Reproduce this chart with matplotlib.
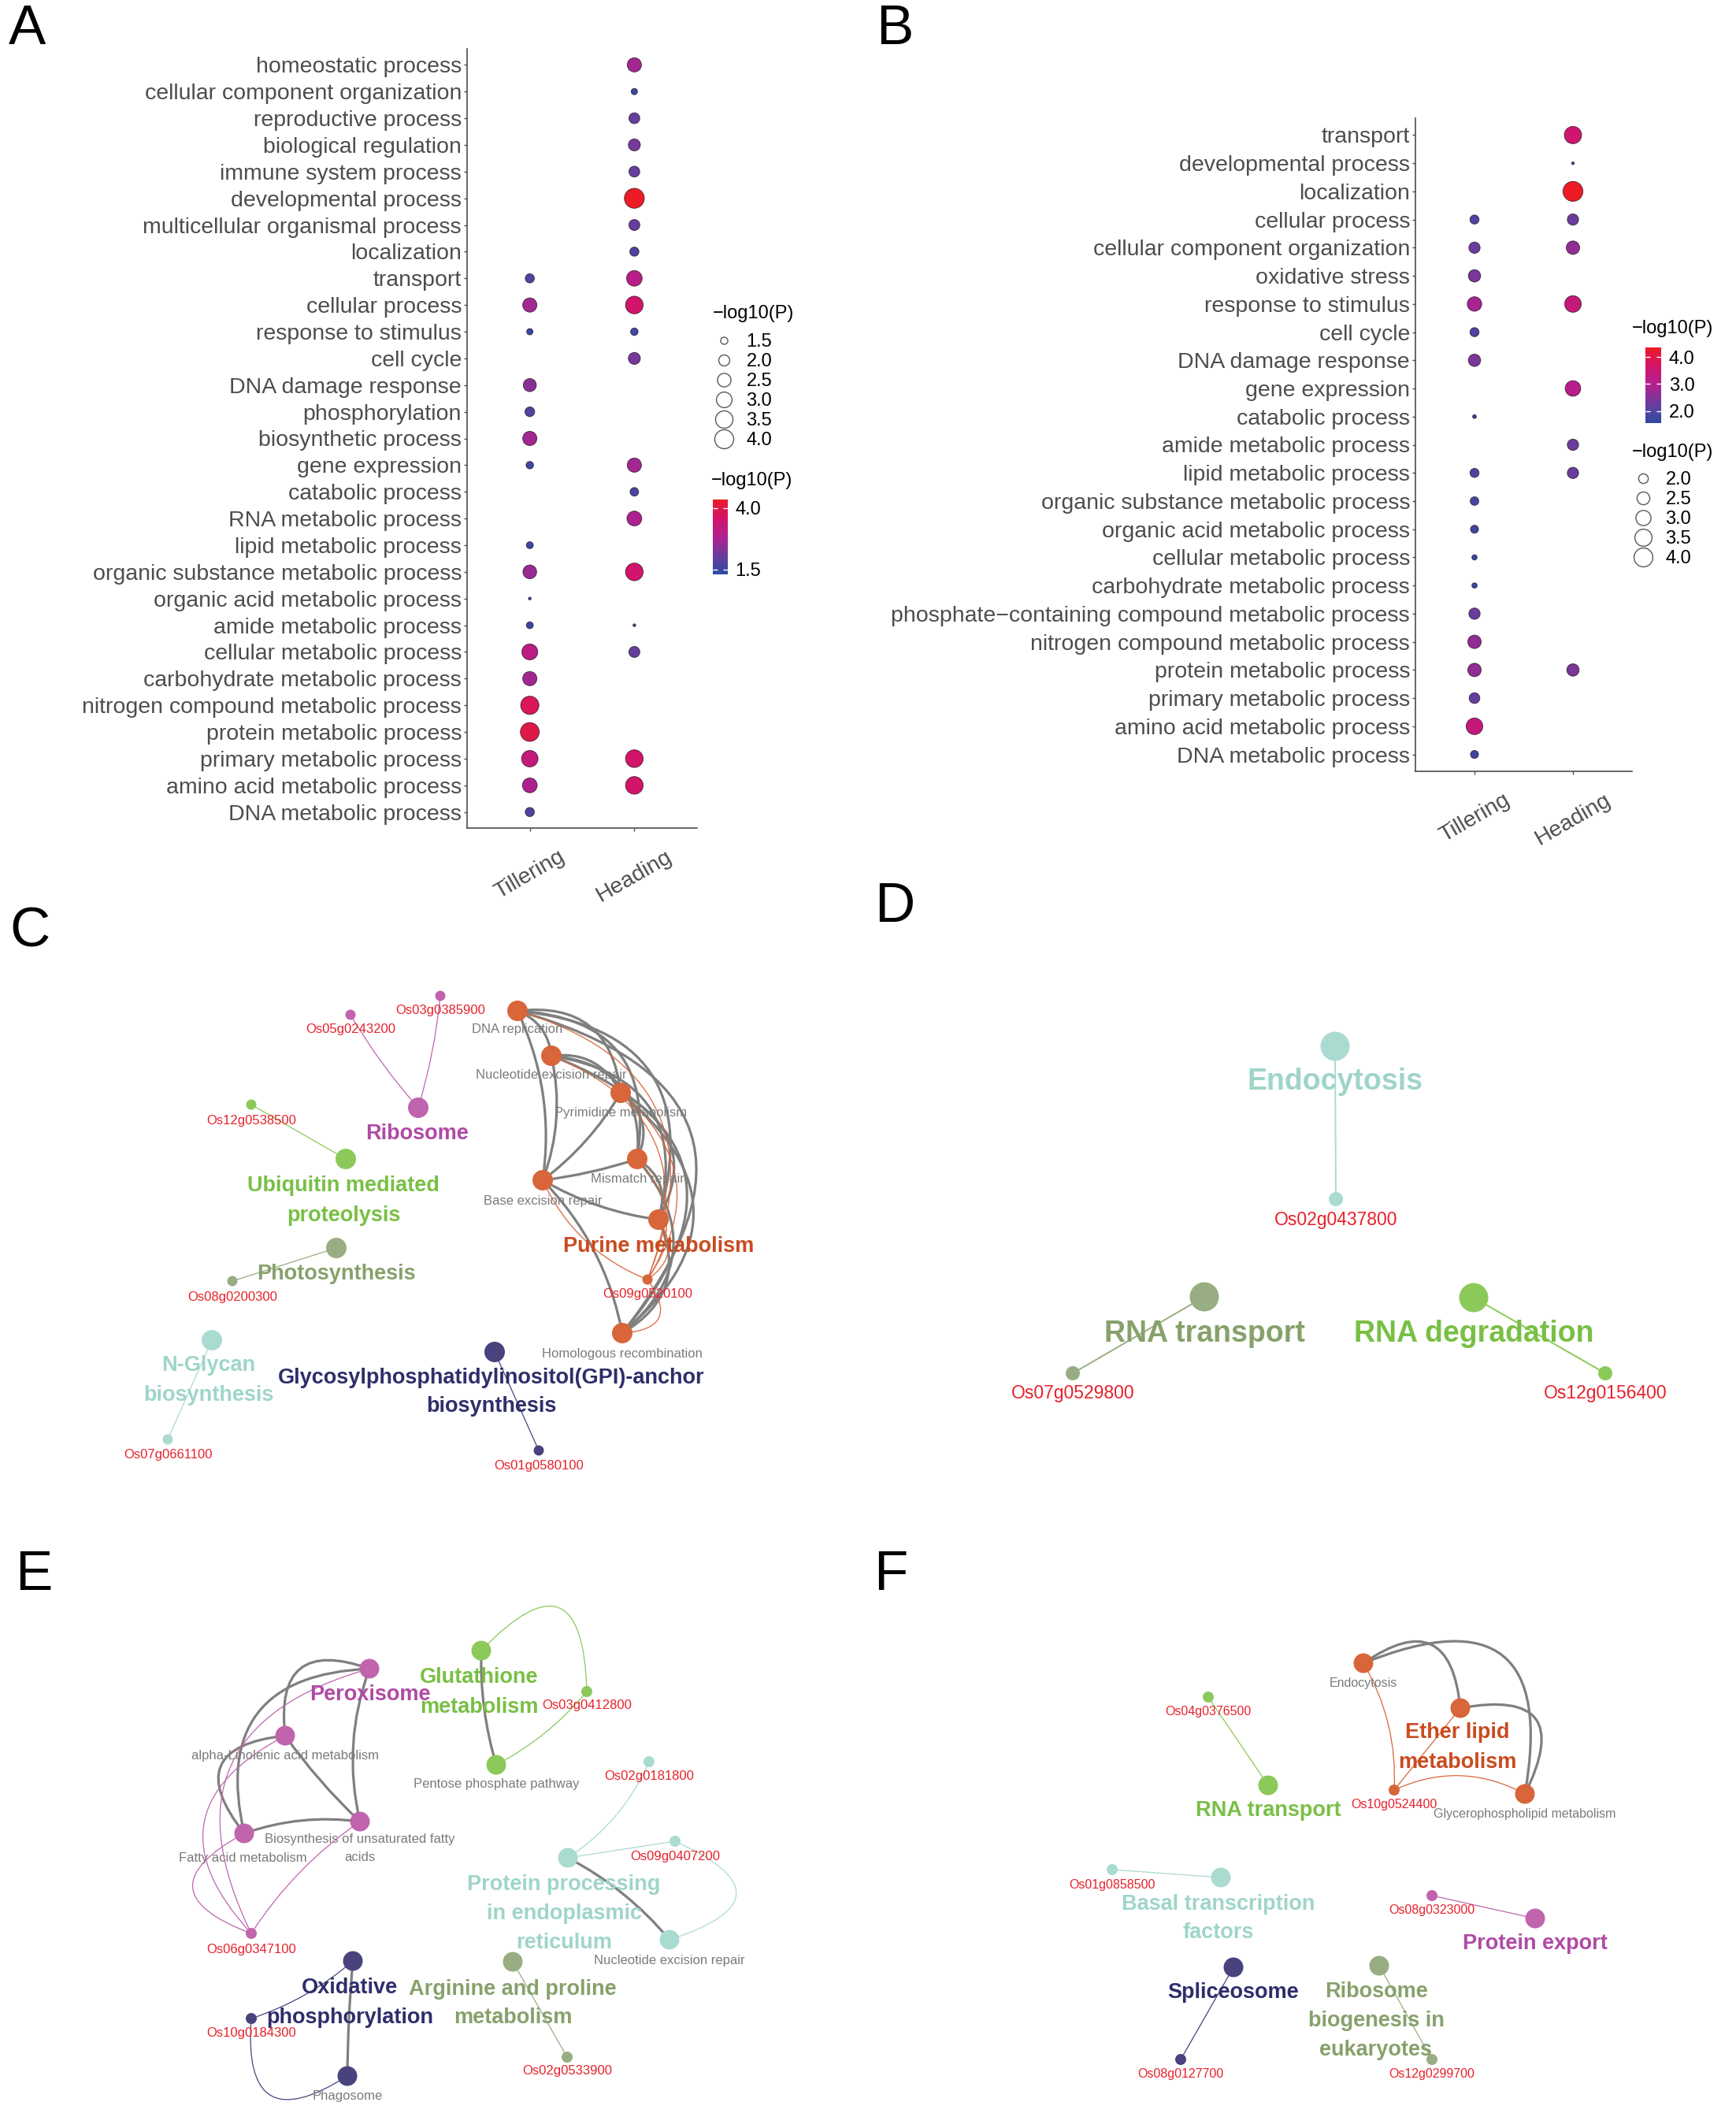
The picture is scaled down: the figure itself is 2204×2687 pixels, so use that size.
import numpy as np
import matplotlib
matplotlib.use("Agg")
import matplotlib.pyplot as plt
import matplotlib.colors as mcolors
from matplotlib.cm import ScalarMappable
from matplotlib.lines import Line2D
from matplotlib.patches import FancyArrowPatch

plt.rcParams['font.family'] = ['Liberation Sans', 'DejaVu Sans']

W, H = 2204, 2687
nan = np.nan

##### DATA: GO dot plots (-log10 P) #####
stages = ["Tillering", "Heading"]

a_terms = ["homeostatic process", "cellular component organization", "reproductive process",
           "biological regulation", "immune system process", "developmental process",
           "multicellular organismal process", "localization", "transport", "cellular process",
           "response to stimulus", "cell cycle", "DNA damage response", "phosphorylation",
           "biosynthetic process", "gene expression", "catabolic process", "RNA metabolic process",
           "lipid metabolic process", "organic substance metabolic process",
           "organic acid metabolic process", "amide metabolic process", "cellular metabolic process",
           "carbohydrate metabolic process", "nitrogen compound metabolic process",
           "protein metabolic process", "primary metabolic process", "amino acid metabolic process",
           "DNA metabolic process"]
a_tillering = [nan, nan, nan, nan, nan, nan, nan, nan, 1.72, 2.66, 1.43, nan, 2.40, 1.80, 2.66,
               1.53, nan, nan, 1.48, 2.55, 1.30, 1.48, 3.09, 2.66, 3.78, 3.97, 3.25, 2.80, 1.72]
a_heading = [2.66, 1.43, 1.98, 2.18, 1.98, 4.35, 2.00, 1.72, 3.00, 3.59, 1.53, 2.18, nan, nan, nan,
             2.66, 1.65, 2.80, nan, 3.59, nan, 1.30, 2.00, nan, nan, nan, 3.59, 3.59, nan]

b_terms = ["transport", "developmental process", "localization", "cellular process",
           "cellular component organization", "oxidative stress", "response to stimulus", "cell cycle",
           "DNA damage response", "gene expression", "catabolic process", "amide metabolic process",
           "lipid metabolic process", "organic substance metabolic process",
           "organic acid metabolic process", "cellular metabolic process",
           "carbohydrate metabolic process", "phosphate\u2212containing compound metabolic process",
           "nitrogen compound metabolic process", "protein metabolic process",
           "primary metabolic process", "amino acid metabolic process", "DNA metabolic process"]
b_tillering = [nan, nan, nan, 1.93, 2.24, 2.42, 2.85, 1.93, 2.42, nan, 1.56, nan, 1.93, 1.87, 1.81,
               1.61, 1.61, 2.24, 2.63, 2.63, 2.15, 3.37, 1.81]
b_heading = [3.56, 1.55, 4.35, 2.24, 2.63, nan, 3.37, nan, nan, 3.10, nan, 2.24, 2.24, nan, nan,
             nan, nan, nan, nan, 2.42, nan, nan, nan]

a_size_breaks = [1.5, 2.0, 2.5, 3.0, 3.5, 4.0]
a_color_breaks = [1.5, 4.0]
b_size_breaks = [2.0, 2.5, 3.0, 3.5, 4.0]
b_color_breaks = [2.0, 3.0, 4.0]

##### DATA: enrichment networks (layout positions, px) #####
# kinds: term = main pathway, sub = related pathway, gene = gene node
c_names = ["Ribosome", "Os05g0243200", "Os03g0385900", "Ubiquitin mediated\nproteolysis",
           "Os12g0538500", "Photosynthesis", "Os08g0200300", "N-Glycan\nbiosynthesis",
           "Os07g0661100", "Glycosylphosphatidylinositol(GPI)-anchor\nbiosynthesis", "Os01g0580100",
           "DNA replication", "Nucleotide excision repair", "Pyrimidine metabolism", "Mismatch repair",
           "Base excision repair", "Purine metabolism", "Os09g0520100", "Homologous recombination"]
c_x = [531, 445, 559, 439, 319, 427, 295, 269, 213, 628, 684, 657, 700, 788, 809, 689, 836, 822, 790]
c_y = [1406, 1288, 1264, 1471, 1402, 1584, 1626, 1701, 1827, 1716, 1841, 1283, 1340, 1387, 1471,
       1498, 1548, 1624, 1692]
c_kind = ["term", "gene", "gene", "term", "gene", "term", "gene", "term", "gene", "term", "gene",
          "sub", "sub", "sub", "sub", "sub", "term", "gene", "sub"]
c_group = ["mag", "mag", "mag", "grn", "grn", "olv", "olv", "teal", "teal", "navy", "navy",
           "org", "org", "org", "org", "org", "org", "org", "org"]
c_lx = [529, 445, 559, 436, 319, 427, 295, 265, 213, 624, 684, 657, 700, 788, 809, 689, 836, 822, 790]
c_ly = [1439, 1307, 1283, 1524, 1422, 1617, 1646, 1752, 1846, 1767, 1861, 1307, 1365, 1412, 1497,
        1524, 1582, 1643, 1719]
c_edges = [("Homologous recombination", "DNA replication", 0.75, "g"),
           ("Homologous recombination", "Nucleotide excision repair", 0.7, "g"),
           ("Homologous recombination", "Pyrimidine metabolism", 0.6, "g"),
           ("Homologous recombination", "Mismatch repair", 0.5, "g"),
           ("Homologous recombination", "Purine metabolism", 0.45, "g"),
           ("Homologous recombination", "Base excision repair", 0.15, "g"),
           ("Purine metabolism", "DNA replication", 0.6, "g"),
           ("Purine metabolism", "Nucleotide excision repair", 0.55, "g"),
           ("Purine metabolism", "Pyrimidine metabolism", 0.5, "g"),
           ("Purine metabolism", "Mismatch repair", 0.4, "g"),
           ("Base excision repair", "Purine metabolism", 0.1, "g"),
           ("Mismatch repair", "DNA replication", 0.55, "g"),
           ("Mismatch repair", "Nucleotide excision repair", 0.5, "g"),
           ("Mismatch repair", "Pyrimidine metabolism", 0.4, "g"),
           ("Base excision repair", "DNA replication", 0.15, "g"),
           ("Base excision repair", "Nucleotide excision repair", 0.15, "g"),
           ("Base excision repair", "Pyrimidine metabolism", 0.1, "g"),
           ("Base excision repair", "Mismatch repair", 0.05, "g"),
           ("Pyrimidine metabolism", "DNA replication", 0.5, "g"),
           ("Pyrimidine metabolism", "Nucleotide excision repair", 0.35, "g"),
           ("Nucleotide excision repair", "DNA replication", 0.3, "g"),
           ("Os09g0520100", "DNA replication", 0.55, "c"),
           ("Os09g0520100", "Nucleotide excision repair", 0.5, "c"),
           ("Os09g0520100", "Pyrimidine metabolism", 0.45, "c"),
           ("Os09g0520100", "Mismatch repair", 0.4, "c"),
           ("Os09g0520100", "Purine metabolism", 0.5, "c"),
           ("Base excision repair", "Os09g0520100", 0.2, "c"),
           ("Homologous recombination", "Os09g0520100", 0.9, "c"),
           ("Os05g0243200", "Ribosome", 0.05, "c"),
           ("Os03g0385900", "Ribosome", -0.05, "c"),
           ("Os12g0538500", "Ubiquitin mediated\nproteolysis", 0.0, "c"),
           ("Os08g0200300", "Photosynthesis", 0.0, "c"),
           ("Os07g0661100", "N-Glycan\nbiosynthesis", 0.0, "c"),
           ("Glycosylphosphatidylinositol(GPI)-anchor\nbiosynthesis", "Os01g0580100", 0.0, "c")]

d_names = ["Endocytosis", "Os02g0437800", "RNA transport", "Os07g0529800", "RNA degradation",
           "Os12g0156400"]
d_x = [1695, 1696, 1529, 1362, 1871, 2038]
d_y = [1328, 1522, 1646, 1743, 1647, 1743]
d_kind = ["term", "gene", "term", "gene", "term", "gene"]
d_group = ["teal", "teal", "olv", "olv", "grn", "grn"]
d_lx = [1695, 1696, 1529, 1362, 1871, 2038]
d_ly = [1373, 1548, 1693, 1768, 1693, 1769]
d_edges = [("Endocytosis", "Os02g0437800", 0.0, "c"),
           ("RNA transport", "Os07g0529800", 0.0, "c"),
           ("RNA degradation", "Os12g0156400", 0.0, "c")]

e_names = ["Peroxisome", "alpha-Linolenic acid metabolism", "Fatty acid metabolism",
           "Biosynthesis of unsaturated fatty\nacids", "Os06g0347100", "Glutathione\nmetabolism",
           "Pentose phosphate pathway", "Os03g0412800",
           "Protein processing\nin endoplasmic\nreticulum", "Nucleotide excision repair",
           "Os02g0181800", "Os09g0407200", "Oxidative\nphosphorylation", "Os10g0184300",
           "Phagosome", "Arginine and proline\nmetabolism", "Os02g0533900"]
e_x = [469, 362, 310, 457, 319, 611, 630, 745, 721, 850, 824, 857, 448, 319, 441, 651, 720]
e_y = [2118, 2203, 2327, 2312, 2454, 2095, 2240, 2147, 2358, 2462, 2236, 2337, 2489, 2562, 2635,
       2490, 2611]
e_kind = ["term", "sub", "sub", "sub", "gene", "term", "sub", "gene", "term", "sub", "gene", "gene",
          "term", "gene", "sub", "term", "gene"]
e_group = ["mag", "mag", "mag", "mag", "mag", "grn", "grn", "grn", "teal", "teal", "teal", "teal",
           "navy", "navy", "navy", "olv", "olv"]
e_lx = [470, 362, 308, 457, 319, 608, 630, 745, 716, 850, 824, 857, 444, 319, 441, 651, 720]
e_ly = [2151, 2228, 2358, 2346, 2474, 2148, 2265, 2165, 2429, 2488, 2255, 2357, 2542, 2581, 2661,
        2543, 2629]
e_edges = [("alpha-Linolenic acid metabolism", "Peroxisome", -0.8, "g"),
           ("Fatty acid metabolism", "Peroxisome", -0.6, "g"),
           ("Fatty acid metabolism", "alpha-Linolenic acid metabolism", -0.9, "g"),
           ("Peroxisome", "Biosynthesis of unsaturated fatty\nacids", 0.15, "g"),
           ("alpha-Linolenic acid metabolism", "Biosynthesis of unsaturated fatty\nacids", 0.05, "g"),
           ("Fatty acid metabolism", "Biosynthesis of unsaturated fatty\nacids", -0.12, "g"),
           ("Os06g0347100", "Fatty acid metabolism", -1.1, "c"),
           ("Os06g0347100", "alpha-Linolenic acid metabolism", -0.65, "c"),
           ("Os06g0347100", "Peroxisome", -0.6, "c"),
           ("Os06g0347100", "Biosynthesis of unsaturated fatty\nacids", -0.1, "c"),
           ("Glutathione\nmetabolism", "Pentose phosphate pathway", 0.08, "g"),
           ("Glutathione\nmetabolism", "Os03g0412800", -1.2, "c"),
           ("Pentose phosphate pathway", "Os03g0412800", 0.1, "c"),
           ("Protein processing\nin endoplasmic\nreticulum", "Os02g0181800", 0.15, "c"),
           ("Protein processing\nin endoplasmic\nreticulum", "Os09g0407200", 0.0, "c"),
           ("Os09g0407200", "Nucleotide excision repair", -1.3, "c"),
           ("Protein processing\nin endoplasmic\nreticulum", "Nucleotide excision repair", -0.1, "g"),
           ("Oxidative\nphosphorylation", "Os10g0184300", -0.1, "c"),
           ("Os10g0184300", "Phagosome", 1.0, "c"),
           ("Oxidative\nphosphorylation", "Phagosome", 0.02, "g"),
           ("Arginine and proline\nmetabolism", "Os02g0533900", 0.0, "c")]

f_names = ["Endocytosis", "Ether lipid\nmetabolism", "Glycerophospholipid metabolism",
           "Os10g0524400", "RNA transport", "Os04g0376500", "Basal transcription\nfactors",
           "Os01g0858500", "Protein export", "Os08g0323000", "Spliceosome", "Os08g0127700",
           "Ribosome\nbiogenesis in\neukaryotes", "Os12g0299700"]
f_x = [1731, 1854, 1936, 1770, 1610, 1534, 1550, 1412, 1949, 1818, 1566, 1499, 1751, 1818]
f_y = [2111, 2168, 2277, 2272, 2266, 2154, 2383, 2373, 2435, 2406, 2497, 2614, 2495, 2614]
f_kind = ["sub", "term", "sub", "gene", "term", "gene", "term", "gene", "term", "gene", "term",
          "gene", "term", "gene"]
f_group = ["org", "org", "org", "org", "grn", "grn", "teal", "teal", "mag", "mag", "navy", "navy",
           "olv", "olv"]
f_lx = [1731, 1850, 1936, 1770, 1610, 1534, 1547, 1412, 1949, 1818, 1566, 1499, 1747, 1818]
f_ly = [2136, 2218, 2302, 2291, 2298, 2173, 2435, 2393, 2467, 2424, 2529, 2633, 2565, 2632]
f_edges = [("Endocytosis", "Ether lipid\nmetabolism", -0.85, "g"),
           ("Endocytosis", "Glycerophospholipid metabolism", -0.9, "g"),
           ("Ether lipid\nmetabolism", "Glycerophospholipid metabolism", -1.0, "g"),
           ("Os10g0524400", "Endocytosis", 0.15, "c"),
           ("Os10g0524400", "Ether lipid\nmetabolism", 0.0, "c"),
           ("Os10g0524400", "Glycerophospholipid metabolism", -0.25, "c"),
           ("Os04g0376500", "RNA transport", 0.0, "c"),
           ("Os01g0858500", "Basal transcription\nfactors", 0.0, "c"),
           ("Os08g0323000", "Protein export", 0.0, "c"),
           ("Spliceosome", "Os08g0127700", 0.0, "c"),
           ("Ribosome\nbiogenesis in\neukaryotes", "Os12g0299700", 0.0, "c")]

##### STYLE #####
node_col = {"mag": "#c064ae", "grn": "#8cc95b", "olv": "#98ae82", "teal": "#aadbd0",
            "navy": "#48437d", "org": "#d8663a"}
text_col = {"mag": "#b04aa5", "grn": "#79bf45", "olv": "#87a16b", "teal": "#9fd5c9",
            "navy": "#2f2e6b", "org": "#c94b1f"}
gene_red = "#e8212b"
sub_grey = "#7a7a7a"
edge_grey = "#7f7f7f"
axis_grey = "#4d4d4d"

# blue -> purple -> magenta -> red gradient as seen in the dot plots
cmap = mcolors.LinearSegmentedColormap.from_list(
    "pval", [(0.0, "#2c4aa3"), (0.22, "#62409e"), (0.5, "#b0218f"), (0.75, "#d2146c"),
             (1.0, "#ec1b24")])


def fx(x):
    return x / W


def fy(y):
    return 1 - y / H


def dot_diam(v, vmin, vmax):
    # px diameter, area-style size scale like ggplot's scale_size
    return 3.5 + 21.8 * np.sqrt(np.clip((np.asarray(v) - vmin) / (vmax - vmin), 0, 1))


##### FIGURE #####
fig = plt.figure(figsize=(W / 100, H / 100), dpi=100)


def dot_panel(rect, terms, til, hea, size_breaks, color_breaks, size_title_xy, leg_top,
              cbar_rect, cbar_title_xy):
    ax = fig.add_axes([fx(rect[0]), fy(rect[3]), fx(rect[2]) - fx(rect[0]), (rect[3] - rect[1]) / H])
    n = len(terms)
    ypos = np.arange(n)[::-1]
    til = np.array(til, float)
    hea = np.array(hea, float)
    vmin = np.nanmin(np.concatenate([til, hea]))
    vmax = np.nanmax(np.concatenate([til, hea]))
    for xi, vals in enumerate([til, hea]):
        m = ~np.isnan(vals)
        ax.scatter(np.full(m.sum(), xi), ypos[m], s=(dot_diam(vals[m], vmin, vmax) * 0.72) ** 2,
                   c=vals[m], cmap=cmap, vmin=vmin, vmax=vmax, edgecolors=(0.15, 0.05, 0.1, 0.7),
                   linewidths=0.7, zorder=3)
    ax.set_xlim(-0.6, 1.6)
    ax.set_ylim(-0.6, n - 0.4)
    ax.set_yticks(ypos)
    ax.set_yticklabels(terms)
    ax.set_xticks([0, 1])
    ax.set_xticklabels(stages, rotation=30, ha="center", va="top")
    for s in ["top", "right"]:
        ax.spines[s].set_visible(False)
    for s in ["left", "bottom"]:
        ax.spines[s].set_color(axis_grey)
        ax.spines[s].set_linewidth(1.2)
    ax.tick_params(axis="both", length=3, width=1, color=axis_grey, labelcolor=axis_grey,
                   labelsize=20.5, pad=2)
    ax.tick_params(axis="x", pad=14)

    # size legend
    fig.text(fx(size_title_xy[0]), fy(size_title_xy[1]), "\u2212log10(P)", fontsize=17,
             ha="left", va="center")
    handles = [Line2D([], [], ls="none", marker="o", markersize=dot_diam(v, vmin, vmax) * 0.72,
                      mfc="white", mec="#5a5a5a", mew=1.0) for v in size_breaks]
    fig.legend(handles, [f"{v:.1f}" for v in size_breaks],
               loc="upper left", bbox_to_anchor=(fx(size_title_xy[0]), fy(leg_top)), frameon=False,
               fontsize=17, handlelength=1.2, handletextpad=0.6,
               labelspacing=0.13, borderpad=0, borderaxespad=0)

    # colour bar
    cax = fig.add_axes([fx(cbar_rect[0]), fy(cbar_rect[3]), fx(cbar_rect[2]) - fx(cbar_rect[0]),
                        (cbar_rect[3] - cbar_rect[1]) / H])
    cb = fig.colorbar(ScalarMappable(norm=mcolors.Normalize(vmin, vmax), cmap=cmap), cax=cax,
                      ticks=color_breaks)
    cb.outline.set_visible(False)
    cb.ax.set_yticklabels([f"{v:.1f}" for v in color_breaks])
    cax.tick_params(labelsize=17, length=4, width=1, color="white", direction="in",
                    left=True, right=True, pad=7)
    fig.text(fx(cbar_title_xy[0]), fy(cbar_title_xy[1]), "\u2212log10(P)", fontsize=17,
             ha="left", va="center")
    return ax


dot_panel((593, 62, 885, 1051), a_terms, a_tillering, a_heading, a_size_breaks, a_color_breaks,
          size_title_xy=(905, 398), leg_top=423, cbar_rect=(905, 634, 924, 729),
          cbar_title_xy=(903, 610))
dot_panel((1797, 150, 2072, 979), b_terms, b_tillering, b_heading, b_size_breaks, b_color_breaks,
          size_title_xy=(2072, 574), leg_top=598, cbar_rect=(2089, 441, 2109, 537),
          cbar_title_xy=(2072, 417))

##### NETWORKS #####
net = fig.add_axes([0, 0, 1, 1])
net.set_xlim(0, W)
net.set_ylim(H, 0)
net.axis("off")
net.patch.set_alpha(0)


def label(x, y, txt, step, **kw):
    # one text per line so each line keeps its own box
    lines = txt.split("\n")
    for i, ln in enumerate(lines):
        net.text(x, y + (i - (len(lines) - 1) / 2) * step, ln, ha="center", va="center",
                 zorder=4, **kw)


def draw_net(names, xs, ys, kinds, groups, lxs, lys, edges, dsz, fsz, lw_g, lw_c, step_t=37):
    idx = {nm: k for k, nm in enumerate(names)}
    for a, b, rad, style in edges:
        i, j = idx[a], idx[b]
        col = edge_grey if style == "g" else node_col[groups[i]]
        p = FancyArrowPatch((xs[i], ys[i]), (xs[j], ys[j]), connectionstyle=f"arc3,rad={rad}",
                            arrowstyle="-", color=col, lw=lw_g if style == "g" else lw_c,
                            shrinkA=0, shrinkB=0, zorder=1 if style == "g" else 2)
        net.add_patch(p)
    for k, nm in enumerate(names):
        d = dsz[kinds[k]]
        net.scatter(xs[k], ys[k], s=(d * 0.72) ** 2, color=node_col[groups[k]],
                    edgecolors="none", zorder=3)
        if kinds[k] == "term":
            label(lxs[k], lys[k], nm, step_t, fontsize=fsz["term"], fontweight="bold",
                  color=text_col[groups[k]])
        elif kinds[k] == "sub":
            label(lxs[k], lys[k], nm, 23, fontsize=fsz["sub"], color=sub_grey)
        else:
            label(lxs[k], lys[k], nm, 20, fontsize=fsz["gene"], color=gene_red)


draw_net(c_names, c_x, c_y, c_kind, c_group, c_lx, c_ly, c_edges,
         {"term": 26, "sub": 26, "gene": 13}, {"term": 19.5, "sub": 12, "gene": 12}, 2.3, 0.9)
draw_net(d_names, d_x, d_y, d_kind, d_group, d_lx, d_ly, d_edges,
         {"term": 37, "sub": 37, "gene": 18}, {"term": 27, "sub": 16, "gene": 16.5}, 2.3, 1.4)
draw_net(e_names, e_x, e_y, e_kind, e_group, e_lx, e_ly, e_edges,
         {"term": 25, "sub": 25, "gene": 14}, {"term": 19.5, "sub": 12, "gene": 12}, 2.3, 0.9)
draw_net(f_names, f_x, f_y, f_kind, f_group, f_lx, f_ly, f_edges,
         {"term": 25, "sub": 25, "gene": 14}, {"term": 19.5, "sub": 11.5, "gene": 11.5}, 2.3, 0.9)

##### PANEL LETTERS #####
for letter, x, y in [("A", 34, 38), ("B", 1136, 38), ("C", 38, 1183), ("D", 1136, 1152),
                     ("E", 43, 2000), ("F", 1131, 2000)]:
    fig.text(fx(x), fy(y), letter, fontsize=51, ha="center", va="center")

fig.savefig("out.png", dpi=100)
